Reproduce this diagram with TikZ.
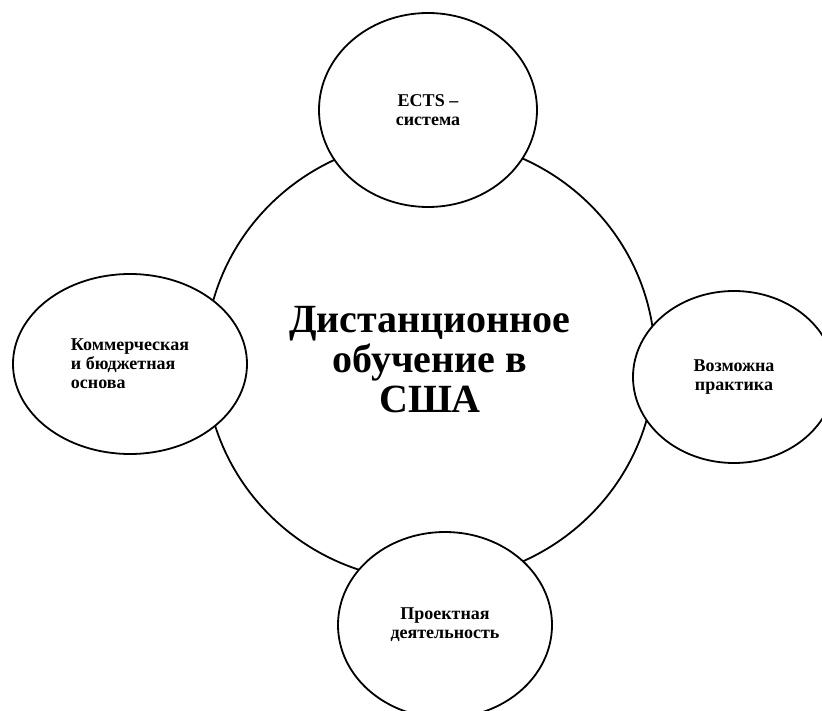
\documentclass[tikz,border=0pt]{standalone}
\usepackage{fontspec}
\setmainfont{Liberation Serif}
\usetikzlibrary{shapes.geometric}

\begin{document}
\begin{tikzpicture}[x=1pt,y=-1pt,
  hub/.style={ellipse,draw=black,line width=1.8pt,minimum width=450pt,minimum height=442pt,align=center,font=\fontsize{40}{40}\selectfont\bfseries},
  petal/.style={ellipse,draw=black,fill=white,line width=1.8pt,inner sep=0pt,align=center,font=\fontsize{18}{19}\selectfont\bfseries}
]
  \useasboundingbox (0,0) rectangle (822,711);
  \node[hub] (hub) at (430,360) {Дистанционное\\обучение в\\США};
  \node[petal,minimum width=218pt,minimum height=194pt] (ects) at (428,110) {ECTS –\\система};
  \node[petal,minimum width=234pt,minimum height=180pt,align=left] (funding) at (130,364) {Коммерческая\\и бюджетная\\основа};
  \node[petal,minimum width=202pt,minimum height=172pt] (practice) at (734,377) {Возможна\\практика};
  \node[petal,minimum width=214pt,minimum height=186pt] (project) at (445,625) {Проектная\\деятельность};
\end{tikzpicture}
\end{document}
